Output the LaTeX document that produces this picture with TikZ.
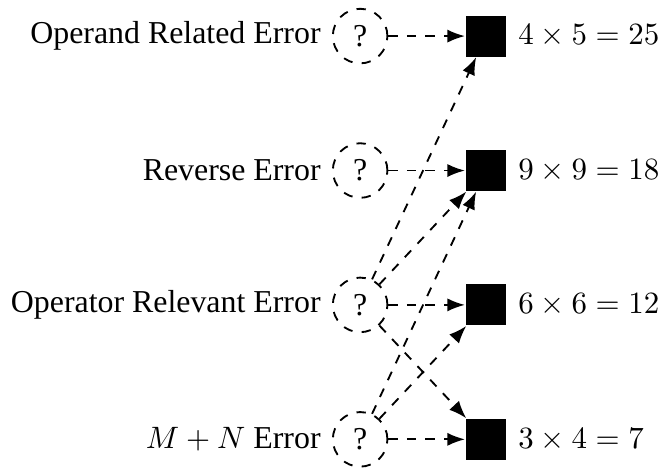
\documentclass[tikz,border=0pt]{standalone}
\usepackage[no-math]{fontspec}
\setmainfont{Liberation Serif}[Scale=1.03]
\usetikzlibrary{arrows.meta, positioning}

\begin{document}
\begin{tikzpicture}[
  guess/.style={circle,draw,dashed,semithick,minimum size=0.62cm,inner sep=0pt},
  answer/.style={rectangle,fill=black,minimum size=0.465cm,inner sep=0pt},
  link/.style={dashed,semithick,-{Latex}}
]
  \useasboundingbox (-4.09,0.41) rectangle (3.44,-4.94);
  % error types
  \node[guess] (c1) at (0,0){?};
  \node[guess] (c2) at (0,-1.527){?};
  \node[guess] (c3) at (0,-3.053){?};
  \node[guess] (c4) at (0,-4.58){?};
  \node[left=0pt of c1] (t1){Operand Related Error};
  \node[left=0pt of c2] (t2){Reverse Error};
  \node[left=0pt of c3] (t3){Operator Relevant Error};
  \node[left=0pt of c4] (t4){$M+N$ Error};
  % wrong products
  \node[answer] (s1) at (1.43,0){};
  \node[answer] (s2) at (1.43,-1.527){};
  \node[answer] (s3) at (1.43,-3.053){};
  \node[answer] (s4) at (1.43,-4.58){};
  \node[right=0pt of s1] (p1){$4\times5=25$};
  \node[right=0pt of s2] (p2){$9\times9=18$};
  \node[right=0pt of s3] (p3){$6\times6=12$};
  \node[right=0pt of s4] (p4){$3\times4=7$};
  % links
  \draw[link] (c1) -- (s1);
  \draw[link] (c2) -- (s2);
  \foreach \s in {s1,s2,s3,s4}{
    \draw[link] (c3) -- (\s);
  }
  \foreach \s in {s2,s3,s4}{
    \draw[link] (c4) -- (\s);
  }
\end{tikzpicture}
\end{document}
